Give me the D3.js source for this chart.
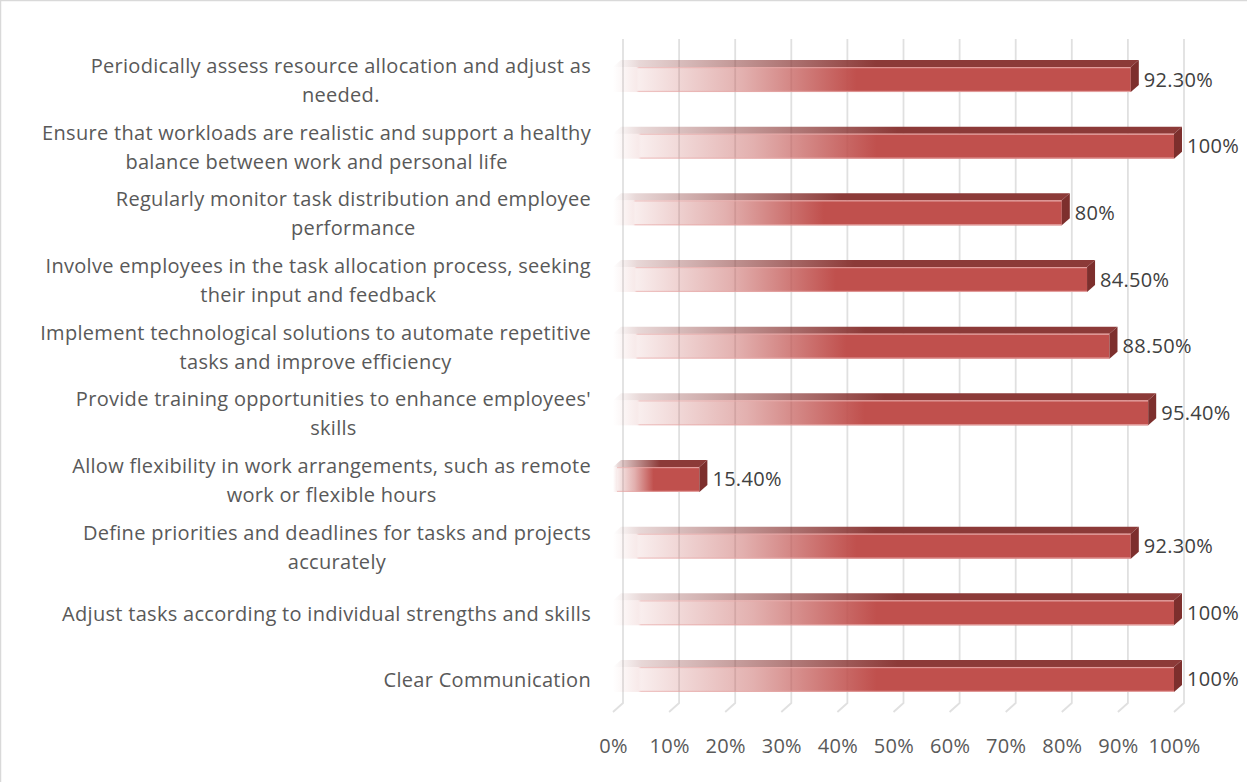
<!DOCTYPE html>
<html>
<head>
<meta charset="utf-8">
<script src="https://cdn.jsdelivr.net/npm/d3@7/dist/d3.min.js"></script>
<style>
  html, body { margin: 0; padding: 0; background: #fff; }
  svg { display: block; }
  text { font-family: "Open Sans", "Noto Sans", sans-serif; letter-spacing: 0.3px; }
</style>
</head>
<body>
<svg id="chart" width="1247" height="782"></svg>
<script>
// Categories listed top to bottom; "\n" marks the label line break.
const categories = [
  "Periodically assess resource allocation and adjust as\nneeded.",
  "Ensure that workloads are realistic and support a healthy\nbalance between work and personal life",
  "Regularly monitor task distribution and employee\nperformance",
  "Involve employees in the task allocation process, seeking\ntheir input and feedback",
  "Implement technological solutions to automate repetitive\ntasks and improve efficiency",
  "Provide training opportunities to enhance employees'\nskills",
  "Allow flexibility in work arrangements, such as remote\nwork or flexible hours",
  "Define priorities and deadlines for tasks and projects\naccurately",
  "Adjust tasks according to individual strengths and skills",
  "Clear Communication"
];
const values = [92.3, 100, 80, 84.5, 88.5, 95.4, 15.4, 92.3, 100, 100];
const ticks = [0, 10, 20, 30, 40, 50, 60, 70, 80, 90, 100];

const W = 1247, H = 782;
const svg = d3.select("#chart");
const FONT = 20;

// Front plane scale, plus depth offsets for the back wall and for bar bodies
const x = d3.scaleLinear().domain([0, 100]).range([613, 1174]);
const y = d3.scaleBand().domain(categories).range([46.2, 712.8]);
const wall = { dx: 10, dy: -9, top: 39, floor: 712 };
const bar = { dx: 8, dy: -7, h: 25 };

// Frame edges
svg.append("line").attr("x1", 0).attr("x2", W).attr("y1", 0.5).attr("y2", 0.5)
  .attr("stroke", "#d9d9d9").attr("stroke-width", 1.5);
svg.append("line").attr("x1", 0.5).attr("x2", 0.5).attr("y1", 0).attr("y2", H)
  .attr("stroke", "#d9d9d9").attr("stroke-width", 1.5);

// Gradients
const defs = svg.append("defs");
function fadeGradient(id, color, stops) {
  const g = defs.append("linearGradient").attr("id", id)
    .attr("x1", 0).attr("x2", 1).attr("y1", 0).attr("y2", 0);
  stops.forEach(([o, a]) => g.append("stop").attr("offset", o)
    .attr("stop-color", color).attr("stop-opacity", a));
}
fadeGradient("frontFill", "#C0504D", [[0, 0], [0.045, 0.12], [0.05, 0.1], [0.25, 0.45], [0.47, 1], [1, 1]]);
fadeGradient("topFill", "#8C3A38", [[0, 0], [0.05, 0.2], [0.5, 1], [1, 1]]);
fadeGradient("edgeFill", "#E8A9A8", [[0, 0], [0.045, 0], [0.05, 0.6], [1, 0.9]]);

// Gridlines: back wall verticals with a slanted floor segment
const grid = svg.append("g");
grid.selectAll("path").data(ticks).join("path")
  .attr("d", t => {
    const bx = x(t) + wall.dx, by = wall.floor + wall.dy;
    return `M${bx},${wall.top}L${bx},${by}L${x(t)},${wall.floor}`;
  })
  .attr("fill", "none").attr("stroke", "#e0e0e0").attr("stroke-width", 1.8);

// Bars
const rows = categories.map((c, i) => ({ c, v: values[i] }));
const g = svg.append("g").selectAll("g").data(rows).join("g");

g.each(function (d) {
  const sel = d3.select(this);
  const x0 = x(0), x1 = x(d.v);
  const cy = y(d.c) + y.bandwidth() / 2;
  const top = cy - bar.h / 2, bot = cy + bar.h / 2;
  // top face
  sel.append("path")
    .attr("d", `M${x0},${top}L${x0 + bar.dx},${top + bar.dy}L${x1 + bar.dx},${top + bar.dy}L${x1},${top}Z`)
    .attr("fill", "url(#topFill)");
  // front face
  sel.append("rect")
    .attr("x", x0).attr("y", top).attr("width", x1 - x0).attr("height", bar.h)
    .attr("fill", "url(#frontFill)");
  // light edges along the front face
  sel.append("rect")
    .attr("x", x0).attr("y", top).attr("width", x1 - x0).attr("height", 1.2)
    .attr("fill", "url(#edgeFill)");
  sel.append("rect")
    .attr("x", x0).attr("y", bot - 1.2).attr("width", x1 - x0).attr("height", 1.2)
    .attr("fill", "url(#edgeFill)");
  // right face
  sel.append("path")
    .attr("d", `M${x1},${top}L${x1 + bar.dx},${top + bar.dy}L${x1 + bar.dx},${bot + bar.dy}L${x1},${bot}Z`)
    .attr("fill", "#7D2F2D");
  // value label
  const fmt = Number.isInteger(d.v) ? d.v + "%" : d.v.toFixed(2) + "%";
  sel.append("text")
    .attr("x", x1 + bar.dx + 5).attr("y", cy)
    .attr("dy", "0.35em")
    .attr("font-size", FONT).attr("fill", "#404040")
    .text(fmt);
});

// Category labels: lines centred on each other, block right-aligned
const labelRight = 591, lineH = 29;
const lab = svg.append("g").selectAll("text").data(categories).join("text")
  .attr("font-size", FONT).attr("fill", "#595959")
  .attr("text-anchor", "middle");
lab.each(function (c) {
  const t = d3.select(this);
  const lines = c.split("\n");
  const cy = y(c) + y.bandwidth() / 2 + 1;
  lines.forEach((ln, k) => {
    t.append("tspan").attr("y", cy + (k - (lines.length - 1) / 2) * lineH)
      .attr("dy", "0.35em").text(ln);
  });
  let w = 0;
  t.selectAll("tspan").each(function () { w = Math.max(w, this.getComputedTextLength()); });
  t.selectAll("tspan").attr("x", labelRight - w / 2);
});

// X axis labels
const axis = svg.append("g").attr("transform", "translate(0,739)")
  .call(d3.axisBottom(x).tickValues(ticks).tickSize(0).tickPadding(0).tickFormat(d => d + "%"));
axis.select(".domain").remove();
axis.selectAll("text").attr("font-size", FONT).attr("fill", "#595959")
  .attr("font-family", "'Open Sans', 'Noto Sans', sans-serif");
</script>
</body>
</html>
